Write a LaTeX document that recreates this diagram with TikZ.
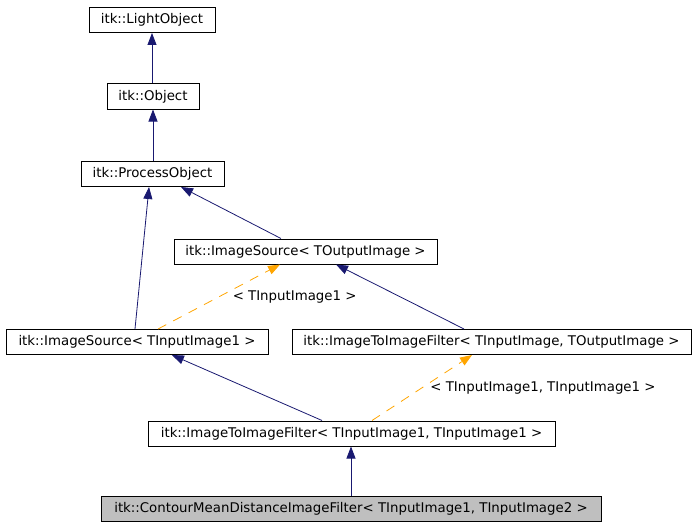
\documentclass[tikz,border=0pt]{standalone}
\usepackage{fontspec}
\setmainfont{DejaVu Sans}
\usetikzlibrary{arrows.meta}
\definecolor{navy}{HTML}{191970}
\definecolor{dorange}{HTML}{FFA500}
\definecolor{boxgray}{HTML}{BFBFBF}
\begin{document}
\begin{tikzpicture}[x=0.75pt,y=-0.75pt,
  cls/.style={draw=black,line width=0.75pt,inner sep=0pt,minimum height=18.75pt,font=\fontsize{10pt}{12pt}\selectfont},
  inh/.style={draw=navy,line width=0.6pt,-{Triangle[length=9pt,width=6.75pt]}},
  tpl/.style={draw=dorange,line width=0.6pt,dash pattern=on 7pt off 6pt,-{Triangle[length=9pt,width=6.75pt]}},
  lbl/.style={inner sep=0pt,font=\fontsize{10pt}{12pt}\selectfont}]
\useasboundingbox (0,0) rectangle (696,528);
\node[cls,minimum width=94.5pt] (light) at (152,20) {itk::LightObject};
\node[cls,minimum width=69pt] (obj) at (153,96.5) {itk::Object};
\node[cls,minimum width=107.25pt] (proc) at (152.5,174) {itk::ProcessObject};
\node[cls,minimum width=197.25pt] (isto) at (305.5,251.5) {itk::ImageSource< TOutputImage >};
\node[cls,minimum width=196.5pt] (isti) at (137,342) {itk::ImageSource< TInputImage1 >};
\node[cls,minimum width=299.25pt] (iito) at (491.5,342) {itk::ImageToImageFilter< TInputImage, TOutputImage >};
\node[cls,minimum width=305.25pt] (iii) at (351.5,433.5) {itk::ImageToImageFilter< TInputImage1, TInputImage1 >};
\node[cls,minimum width=375pt,fill=boxgray] (cont) at (351,509) {itk::ContourMeanDistanceImageFilter< TInputImage1, TInputImage2 >};
\draw[inh] (obj.north -| light.south) -- (light.south);
\draw[inh] (proc.north -| obj.south) -- (obj.south);
\draw[inh] ([xshift=-1.5pt]isti.north) -- ([xshift=-2.6pt]proc.south);
\draw[inh] ([xshift=-18.4pt]isto.north) -- ([xshift=21.4pt]proc.south);
\draw[inh] ([xshift=-20.6pt]iito.north) -- ([xshift=22.9pt]isto.south);
\draw[inh] ([xshift=-22.1pt]iii.north) -- ([xshift=26.2pt]isti.south);
\draw[inh] (cont.north) -- (cont.north |- iii.south);
\draw[tpl] ([xshift=15.75pt]isti.north) -- ([xshift=-19.1pt]isto.south) node[lbl,pos=0.5,right=10pt] (l1) {< TInputImage1 >};
\draw[tpl] ([xshift=15.4pt]iii.north) -- ([xshift=-14.6pt]iito.south) node[lbl,pos=0.5,right=6pt] (l2) {< TInputImage1, TInputImage1 >};
\end{tikzpicture}
\end{document}
